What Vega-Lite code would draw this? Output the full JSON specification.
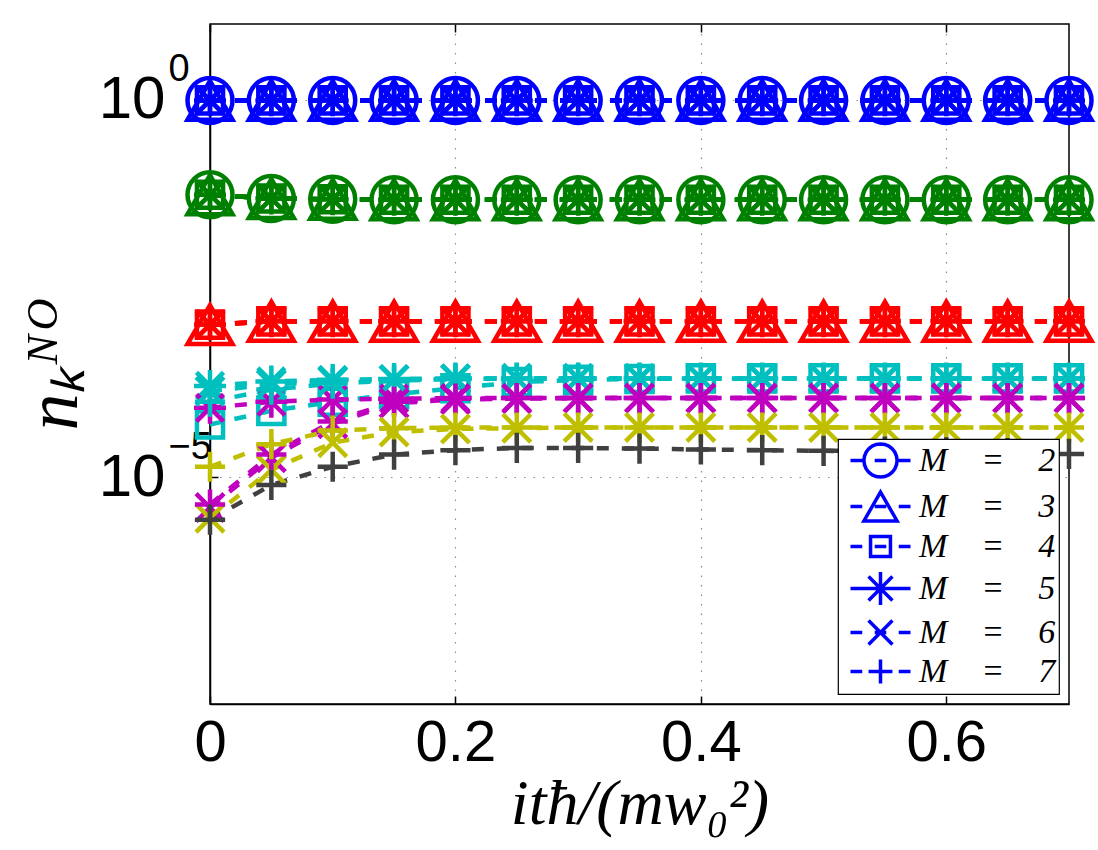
{
"$schema":"https://vega.github.io/schema/vega-lite/v6.json",
"width":859,"height":680,
"autosize":{"type":"none"},
"padding":{"left":210,"top":24,"right":29,"bottom":146},
"background":"white",
"config":{
 "view":{"stroke":"black","strokeWidth":1.5},
 "legend":{"strokeWidth":1.2},
 "axis":{"domainColor":"black","domainWidth":1.5,"tickColor":"black","tickWidth":1.5,"labelColor":"black","titleColor":"black"}
},
"data":{"values":[
{"t":0,"M":2,"k":1,"n":0.975},{"t":0.05,"M":2,"k":1,"n":0.975},{"t":0.1,"M":2,"k":1,"n":0.975},{"t":0.15,"M":2,"k":1,"n":0.975},{"t":0.2,"M":2,"k":1,"n":0.975},{"t":0.25,"M":2,"k":1,"n":0.975},{"t":0.3,"M":2,"k":1,"n":0.975},{"t":0.35,"M":2,"k":1,"n":0.975},{"t":0.4,"M":2,"k":1,"n":0.975},{"t":0.45,"M":2,"k":1,"n":0.975},{"t":0.5,"M":2,"k":1,"n":0.975},{"t":0.55,"M":2,"k":1,"n":0.975},{"t":0.6,"M":2,"k":1,"n":0.975},{"t":0.65,"M":2,"k":1,"n":0.975},{"t":0.7,"M":2,"k":1,"n":0.975},
{"t":0,"M":2,"k":2,"n":0.055},{"t":0.05,"M":2,"k":2,"n":0.049},{"t":0.1,"M":2,"k":2,"n":0.0479},{"t":0.15,"M":2,"k":2,"n":0.0473},{"t":0.2,"M":2,"k":2,"n":0.0473},{"t":0.25,"M":2,"k":2,"n":0.0473},{"t":0.3,"M":2,"k":2,"n":0.0473},{"t":0.35,"M":2,"k":2,"n":0.0473},{"t":0.4,"M":2,"k":2,"n":0.0473},{"t":0.45,"M":2,"k":2,"n":0.0473},{"t":0.5,"M":2,"k":2,"n":0.0473},{"t":0.55,"M":2,"k":2,"n":0.0473},{"t":0.6,"M":2,"k":2,"n":0.0473},{"t":0.65,"M":2,"k":2,"n":0.0473},{"t":0.7,"M":2,"k":2,"n":0.0473},
{"t":0,"M":3,"k":1,"n":0.975},{"t":0.05,"M":3,"k":1,"n":0.975},{"t":0.1,"M":3,"k":1,"n":0.975},{"t":0.15,"M":3,"k":1,"n":0.975},{"t":0.2,"M":3,"k":1,"n":0.975},{"t":0.25,"M":3,"k":1,"n":0.975},{"t":0.3,"M":3,"k":1,"n":0.975},{"t":0.35,"M":3,"k":1,"n":0.975},{"t":0.4,"M":3,"k":1,"n":0.975},{"t":0.45,"M":3,"k":1,"n":0.975},{"t":0.5,"M":3,"k":1,"n":0.975},{"t":0.55,"M":3,"k":1,"n":0.975},{"t":0.6,"M":3,"k":1,"n":0.975},{"t":0.65,"M":3,"k":1,"n":0.975},{"t":0.7,"M":3,"k":1,"n":0.975},
{"t":0,"M":3,"k":2,"n":0.055},{"t":0.05,"M":3,"k":2,"n":0.049},{"t":0.1,"M":3,"k":2,"n":0.0479},{"t":0.15,"M":3,"k":2,"n":0.0473},{"t":0.2,"M":3,"k":2,"n":0.0473},{"t":0.25,"M":3,"k":2,"n":0.0473},{"t":0.3,"M":3,"k":2,"n":0.0473},{"t":0.35,"M":3,"k":2,"n":0.0473},{"t":0.4,"M":3,"k":2,"n":0.0473},{"t":0.45,"M":3,"k":2,"n":0.0473},{"t":0.5,"M":3,"k":2,"n":0.0473},{"t":0.55,"M":3,"k":2,"n":0.0473},{"t":0.6,"M":3,"k":2,"n":0.0473},{"t":0.65,"M":3,"k":2,"n":0.0473},{"t":0.7,"M":3,"k":2,"n":0.0473},
{"t":0,"M":3,"k":3,"n":0.00105},{"t":0.05,"M":3,"k":3,"n":0.00116},{"t":0.1,"M":3,"k":3,"n":0.00116},{"t":0.15,"M":3,"k":3,"n":0.00116},{"t":0.2,"M":3,"k":3,"n":0.00116},{"t":0.25,"M":3,"k":3,"n":0.00116},{"t":0.3,"M":3,"k":3,"n":0.00116},{"t":0.35,"M":3,"k":3,"n":0.00116},{"t":0.4,"M":3,"k":3,"n":0.00116},{"t":0.45,"M":3,"k":3,"n":0.00116},{"t":0.5,"M":3,"k":3,"n":0.00116},{"t":0.55,"M":3,"k":3,"n":0.00116},{"t":0.6,"M":3,"k":3,"n":0.00116},{"t":0.65,"M":3,"k":3,"n":0.00116},{"t":0.7,"M":3,"k":3,"n":0.00116},
{"t":0,"M":4,"k":1,"n":0.975},{"t":0.05,"M":4,"k":1,"n":0.975},{"t":0.1,"M":4,"k":1,"n":0.975},{"t":0.15,"M":4,"k":1,"n":0.975},{"t":0.2,"M":4,"k":1,"n":0.975},{"t":0.25,"M":4,"k":1,"n":0.975},{"t":0.3,"M":4,"k":1,"n":0.975},{"t":0.35,"M":4,"k":1,"n":0.975},{"t":0.4,"M":4,"k":1,"n":0.975},{"t":0.45,"M":4,"k":1,"n":0.975},{"t":0.5,"M":4,"k":1,"n":0.975},{"t":0.55,"M":4,"k":1,"n":0.975},{"t":0.6,"M":4,"k":1,"n":0.975},{"t":0.65,"M":4,"k":1,"n":0.975},{"t":0.7,"M":4,"k":1,"n":0.975},
{"t":0,"M":4,"k":2,"n":0.055},{"t":0.05,"M":4,"k":2,"n":0.049},{"t":0.1,"M":4,"k":2,"n":0.0479},{"t":0.15,"M":4,"k":2,"n":0.0473},{"t":0.2,"M":4,"k":2,"n":0.0473},{"t":0.25,"M":4,"k":2,"n":0.0473},{"t":0.3,"M":4,"k":2,"n":0.0473},{"t":0.35,"M":4,"k":2,"n":0.0473},{"t":0.4,"M":4,"k":2,"n":0.0473},{"t":0.45,"M":4,"k":2,"n":0.0473},{"t":0.5,"M":4,"k":2,"n":0.0473},{"t":0.55,"M":4,"k":2,"n":0.0473},{"t":0.6,"M":4,"k":2,"n":0.0473},{"t":0.65,"M":4,"k":2,"n":0.0473},{"t":0.7,"M":4,"k":2,"n":0.0473},
{"t":0,"M":4,"k":3,"n":0.00105},{"t":0.05,"M":4,"k":3,"n":0.00116},{"t":0.1,"M":4,"k":3,"n":0.00116},{"t":0.15,"M":4,"k":3,"n":0.00116},{"t":0.2,"M":4,"k":3,"n":0.00116},{"t":0.25,"M":4,"k":3,"n":0.00116},{"t":0.3,"M":4,"k":3,"n":0.00116},{"t":0.35,"M":4,"k":3,"n":0.00116},{"t":0.4,"M":4,"k":3,"n":0.00116},{"t":0.45,"M":4,"k":3,"n":0.00116},{"t":0.5,"M":4,"k":3,"n":0.00116},{"t":0.55,"M":4,"k":3,"n":0.00116},{"t":0.6,"M":4,"k":3,"n":0.00116},{"t":0.65,"M":4,"k":3,"n":0.00116},{"t":0.7,"M":4,"k":3,"n":0.00116},
{"t":0,"M":4,"k":4,"n":5.01e-5},{"t":0.05,"M":4,"k":4,"n":7.59e-5},{"t":0.1,"M":4,"k":4,"n":1e-4},{"t":0.15,"M":4,"k":4,"n":1.26e-4},{"t":0.2,"M":4,"k":4,"n":1.51e-4},{"t":0.25,"M":4,"k":4,"n":1.82e-4},{"t":0.3,"M":4,"k":4,"n":1.95e-4},{"t":0.35,"M":4,"k":4,"n":2e-4},{"t":0.4,"M":4,"k":4,"n":2.04e-4},{"t":0.45,"M":4,"k":4,"n":2.04e-4},{"t":0.5,"M":4,"k":4,"n":2.04e-4},{"t":0.55,"M":4,"k":4,"n":2.04e-4},{"t":0.6,"M":4,"k":4,"n":2.04e-4},{"t":0.65,"M":4,"k":4,"n":2.04e-4},{"t":0.7,"M":4,"k":4,"n":2.04e-4},
{"t":0,"M":5,"k":1,"n":0.975},{"t":0.05,"M":5,"k":1,"n":0.975},{"t":0.1,"M":5,"k":1,"n":0.975},{"t":0.15,"M":5,"k":1,"n":0.975},{"t":0.2,"M":5,"k":1,"n":0.975},{"t":0.25,"M":5,"k":1,"n":0.975},{"t":0.3,"M":5,"k":1,"n":0.975},{"t":0.35,"M":5,"k":1,"n":0.975},{"t":0.4,"M":5,"k":1,"n":0.975},{"t":0.45,"M":5,"k":1,"n":0.975},{"t":0.5,"M":5,"k":1,"n":0.975},{"t":0.55,"M":5,"k":1,"n":0.975},{"t":0.6,"M":5,"k":1,"n":0.975},{"t":0.65,"M":5,"k":1,"n":0.975},{"t":0.7,"M":5,"k":1,"n":0.975},
{"t":0,"M":5,"k":2,"n":0.055},{"t":0.05,"M":5,"k":2,"n":0.049},{"t":0.1,"M":5,"k":2,"n":0.0479},{"t":0.15,"M":5,"k":2,"n":0.0473},{"t":0.2,"M":5,"k":2,"n":0.0473},{"t":0.25,"M":5,"k":2,"n":0.0473},{"t":0.3,"M":5,"k":2,"n":0.0473},{"t":0.35,"M":5,"k":2,"n":0.0473},{"t":0.4,"M":5,"k":2,"n":0.0473},{"t":0.45,"M":5,"k":2,"n":0.0473},{"t":0.5,"M":5,"k":2,"n":0.0473},{"t":0.55,"M":5,"k":2,"n":0.0473},{"t":0.6,"M":5,"k":2,"n":0.0473},{"t":0.65,"M":5,"k":2,"n":0.0473},{"t":0.7,"M":5,"k":2,"n":0.0473},
{"t":0,"M":5,"k":3,"n":0.00105},{"t":0.05,"M":5,"k":3,"n":0.00116},{"t":0.1,"M":5,"k":3,"n":0.00116},{"t":0.15,"M":5,"k":3,"n":0.00116},{"t":0.2,"M":5,"k":3,"n":0.00116},{"t":0.25,"M":5,"k":3,"n":0.00116},{"t":0.3,"M":5,"k":3,"n":0.00116},{"t":0.35,"M":5,"k":3,"n":0.00116},{"t":0.4,"M":5,"k":3,"n":0.00116},{"t":0.45,"M":5,"k":3,"n":0.00116},{"t":0.5,"M":5,"k":3,"n":0.00116},{"t":0.55,"M":5,"k":3,"n":0.00116},{"t":0.6,"M":5,"k":3,"n":0.00116},{"t":0.65,"M":5,"k":3,"n":0.00116},{"t":0.7,"M":5,"k":3,"n":0.00116},
{"t":0,"M":5,"k":4,"n":1.62e-4},{"t":0.05,"M":5,"k":4,"n":1.86e-4},{"t":0.1,"M":5,"k":4,"n":1.95e-4},{"t":0.15,"M":5,"k":4,"n":2e-4},{"t":0.2,"M":5,"k":4,"n":2.04e-4},{"t":0.25,"M":5,"k":4,"n":2.04e-4},{"t":0.3,"M":5,"k":4,"n":2.04e-4},{"t":0.35,"M":5,"k":4,"n":2.04e-4},{"t":0.4,"M":5,"k":4,"n":2.04e-4},{"t":0.45,"M":5,"k":4,"n":2.04e-4},{"t":0.5,"M":5,"k":4,"n":2.04e-4},{"t":0.55,"M":5,"k":4,"n":2.04e-4},{"t":0.6,"M":5,"k":4,"n":2.04e-4},{"t":0.65,"M":5,"k":4,"n":2.04e-4},{"t":0.7,"M":5,"k":4,"n":2.04e-4},
{"t":0,"M":5,"k":5,"n":8.32e-5},{"t":0.05,"M":5,"k":5,"n":1e-4},{"t":0.1,"M":5,"k":5,"n":1.07e-4},{"t":0.15,"M":5,"k":5,"n":1.1e-4},{"t":0.2,"M":5,"k":5,"n":1.12e-4},{"t":0.25,"M":5,"k":5,"n":1.12e-4},{"t":0.3,"M":5,"k":5,"n":1.12e-4},{"t":0.35,"M":5,"k":5,"n":1.12e-4},{"t":0.4,"M":5,"k":5,"n":1.12e-4},{"t":0.45,"M":5,"k":5,"n":1.12e-4},{"t":0.5,"M":5,"k":5,"n":1.12e-4},{"t":0.55,"M":5,"k":5,"n":1.12e-4},{"t":0.6,"M":5,"k":5,"n":1.12e-4},{"t":0.65,"M":5,"k":5,"n":1.12e-4},{"t":0.7,"M":5,"k":5,"n":1.12e-4},
{"t":0,"M":6,"k":1,"n":0.975},{"t":0.05,"M":6,"k":1,"n":0.975},{"t":0.1,"M":6,"k":1,"n":0.975},{"t":0.15,"M":6,"k":1,"n":0.975},{"t":0.2,"M":6,"k":1,"n":0.975},{"t":0.25,"M":6,"k":1,"n":0.975},{"t":0.3,"M":6,"k":1,"n":0.975},{"t":0.35,"M":6,"k":1,"n":0.975},{"t":0.4,"M":6,"k":1,"n":0.975},{"t":0.45,"M":6,"k":1,"n":0.975},{"t":0.5,"M":6,"k":1,"n":0.975},{"t":0.55,"M":6,"k":1,"n":0.975},{"t":0.6,"M":6,"k":1,"n":0.975},{"t":0.65,"M":6,"k":1,"n":0.975},{"t":0.7,"M":6,"k":1,"n":0.975},
{"t":0,"M":6,"k":2,"n":0.055},{"t":0.05,"M":6,"k":2,"n":0.049},{"t":0.1,"M":6,"k":2,"n":0.0479},{"t":0.15,"M":6,"k":2,"n":0.0473},{"t":0.2,"M":6,"k":2,"n":0.0473},{"t":0.25,"M":6,"k":2,"n":0.0473},{"t":0.3,"M":6,"k":2,"n":0.0473},{"t":0.35,"M":6,"k":2,"n":0.0473},{"t":0.4,"M":6,"k":2,"n":0.0473},{"t":0.45,"M":6,"k":2,"n":0.0473},{"t":0.5,"M":6,"k":2,"n":0.0473},{"t":0.55,"M":6,"k":2,"n":0.0473},{"t":0.6,"M":6,"k":2,"n":0.0473},{"t":0.65,"M":6,"k":2,"n":0.0473},{"t":0.7,"M":6,"k":2,"n":0.0473},
{"t":0,"M":6,"k":3,"n":0.00105},{"t":0.05,"M":6,"k":3,"n":0.00116},{"t":0.1,"M":6,"k":3,"n":0.00116},{"t":0.15,"M":6,"k":3,"n":0.00116},{"t":0.2,"M":6,"k":3,"n":0.00116},{"t":0.25,"M":6,"k":3,"n":0.00116},{"t":0.3,"M":6,"k":3,"n":0.00116},{"t":0.35,"M":6,"k":3,"n":0.00116},{"t":0.4,"M":6,"k":3,"n":0.00116},{"t":0.45,"M":6,"k":3,"n":0.00116},{"t":0.5,"M":6,"k":3,"n":0.00116},{"t":0.55,"M":6,"k":3,"n":0.00116},{"t":0.6,"M":6,"k":3,"n":0.00116},{"t":0.65,"M":6,"k":3,"n":0.00116},{"t":0.7,"M":6,"k":3,"n":0.00116},
{"t":0,"M":6,"k":4,"n":1.38e-4},{"t":0.05,"M":6,"k":4,"n":1.7e-4},{"t":0.1,"M":6,"k":4,"n":1.86e-4},{"t":0.15,"M":6,"k":4,"n":1.95e-4},{"t":0.2,"M":6,"k":4,"n":2e-4},{"t":0.25,"M":6,"k":4,"n":2.04e-4},{"t":0.3,"M":6,"k":4,"n":2.04e-4},{"t":0.35,"M":6,"k":4,"n":2.04e-4},{"t":0.4,"M":6,"k":4,"n":2.04e-4},{"t":0.45,"M":6,"k":4,"n":2.04e-4},{"t":0.5,"M":6,"k":4,"n":2.04e-4},{"t":0.55,"M":6,"k":4,"n":2.04e-4},{"t":0.6,"M":6,"k":4,"n":2.04e-4},{"t":0.65,"M":6,"k":4,"n":2.04e-4},{"t":0.7,"M":6,"k":4,"n":2.04e-4},
{"t":0,"M":6,"k":5,"n":3.98e-6},{"t":0.05,"M":6,"k":5,"n":1.82e-5},{"t":0.1,"M":6,"k":5,"n":5.13e-5},{"t":0.15,"M":6,"k":5,"n":9.55e-5},{"t":0.2,"M":6,"k":5,"n":1.07e-4},{"t":0.25,"M":6,"k":5,"n":1.1e-4},{"t":0.3,"M":6,"k":5,"n":1.12e-4},{"t":0.35,"M":6,"k":5,"n":1.12e-4},{"t":0.4,"M":6,"k":5,"n":1.12e-4},{"t":0.45,"M":6,"k":5,"n":1.12e-4},{"t":0.5,"M":6,"k":5,"n":1.12e-4},{"t":0.55,"M":6,"k":5,"n":1.12e-4},{"t":0.6,"M":6,"k":5,"n":1.12e-4},{"t":0.65,"M":6,"k":5,"n":1.12e-4},{"t":0.7,"M":6,"k":5,"n":1.12e-4},
{"t":0,"M":6,"k":6,"n":2.88e-6},{"t":0.05,"M":6,"k":6,"n":1.26e-5},{"t":0.1,"M":6,"k":6,"n":2.88e-5},{"t":0.15,"M":6,"k":6,"n":3.98e-5},{"t":0.2,"M":6,"k":6,"n":4.37e-5},{"t":0.25,"M":6,"k":6,"n":4.47e-5},{"t":0.3,"M":6,"k":6,"n":4.57e-5},{"t":0.35,"M":6,"k":6,"n":4.57e-5},{"t":0.4,"M":6,"k":6,"n":4.57e-5},{"t":0.45,"M":6,"k":6,"n":4.57e-5},{"t":0.5,"M":6,"k":6,"n":4.57e-5},{"t":0.55,"M":6,"k":6,"n":4.57e-5},{"t":0.6,"M":6,"k":6,"n":4.57e-5},{"t":0.65,"M":6,"k":6,"n":4.57e-5},{"t":0.7,"M":6,"k":6,"n":4.57e-5},
{"t":0,"M":7,"k":1,"n":0.975},{"t":0.05,"M":7,"k":1,"n":0.975},{"t":0.1,"M":7,"k":1,"n":0.975},{"t":0.15,"M":7,"k":1,"n":0.975},{"t":0.2,"M":7,"k":1,"n":0.975},{"t":0.25,"M":7,"k":1,"n":0.975},{"t":0.3,"M":7,"k":1,"n":0.975},{"t":0.35,"M":7,"k":1,"n":0.975},{"t":0.4,"M":7,"k":1,"n":0.975},{"t":0.45,"M":7,"k":1,"n":0.975},{"t":0.5,"M":7,"k":1,"n":0.975},{"t":0.55,"M":7,"k":1,"n":0.975},{"t":0.6,"M":7,"k":1,"n":0.975},{"t":0.65,"M":7,"k":1,"n":0.975},{"t":0.7,"M":7,"k":1,"n":0.975},
{"t":0,"M":7,"k":2,"n":0.055},{"t":0.05,"M":7,"k":2,"n":0.049},{"t":0.1,"M":7,"k":2,"n":0.0479},{"t":0.15,"M":7,"k":2,"n":0.0473},{"t":0.2,"M":7,"k":2,"n":0.0473},{"t":0.25,"M":7,"k":2,"n":0.0473},{"t":0.3,"M":7,"k":2,"n":0.0473},{"t":0.35,"M":7,"k":2,"n":0.0473},{"t":0.4,"M":7,"k":2,"n":0.0473},{"t":0.45,"M":7,"k":2,"n":0.0473},{"t":0.5,"M":7,"k":2,"n":0.0473},{"t":0.55,"M":7,"k":2,"n":0.0473},{"t":0.6,"M":7,"k":2,"n":0.0473},{"t":0.65,"M":7,"k":2,"n":0.0473},{"t":0.7,"M":7,"k":2,"n":0.0473},
{"t":0,"M":7,"k":3,"n":0.00105},{"t":0.05,"M":7,"k":3,"n":0.00116},{"t":0.1,"M":7,"k":3,"n":0.00116},{"t":0.15,"M":7,"k":3,"n":0.00116},{"t":0.2,"M":7,"k":3,"n":0.00116},{"t":0.25,"M":7,"k":3,"n":0.00116},{"t":0.3,"M":7,"k":3,"n":0.00116},{"t":0.35,"M":7,"k":3,"n":0.00116},{"t":0.4,"M":7,"k":3,"n":0.00116},{"t":0.45,"M":7,"k":3,"n":0.00116},{"t":0.5,"M":7,"k":3,"n":0.00116},{"t":0.55,"M":7,"k":3,"n":0.00116},{"t":0.6,"M":7,"k":3,"n":0.00116},{"t":0.65,"M":7,"k":3,"n":0.00116},{"t":0.7,"M":7,"k":3,"n":0.00116},
{"t":0,"M":7,"k":4,"n":1e-4},{"t":0.05,"M":7,"k":4,"n":1.45e-4},{"t":0.1,"M":7,"k":4,"n":1.74e-4},{"t":0.15,"M":7,"k":4,"n":1.91e-4},{"t":0.2,"M":7,"k":4,"n":2e-4},{"t":0.25,"M":7,"k":4,"n":2.04e-4},{"t":0.3,"M":7,"k":4,"n":2.04e-4},{"t":0.35,"M":7,"k":4,"n":2.04e-4},{"t":0.4,"M":7,"k":4,"n":2.04e-4},{"t":0.45,"M":7,"k":4,"n":2.04e-4},{"t":0.5,"M":7,"k":4,"n":2.04e-4},{"t":0.55,"M":7,"k":4,"n":2.04e-4},{"t":0.6,"M":7,"k":4,"n":2.04e-4},{"t":0.65,"M":7,"k":4,"n":2.04e-4},{"t":0.7,"M":7,"k":4,"n":2.04e-4},
{"t":0,"M":7,"k":5,"n":4.37e-6},{"t":0.05,"M":7,"k":5,"n":2e-5},{"t":0.1,"M":7,"k":5,"n":5.5e-5},{"t":0.15,"M":7,"k":5,"n":1e-4},{"t":0.2,"M":7,"k":5,"n":1.1e-4},{"t":0.25,"M":7,"k":5,"n":1.12e-4},{"t":0.3,"M":7,"k":5,"n":1.12e-4},{"t":0.35,"M":7,"k":5,"n":1.12e-4},{"t":0.4,"M":7,"k":5,"n":1.12e-4},{"t":0.45,"M":7,"k":5,"n":1.12e-4},{"t":0.5,"M":7,"k":5,"n":1.12e-4},{"t":0.55,"M":7,"k":5,"n":1.12e-4},{"t":0.6,"M":7,"k":5,"n":1.12e-4},{"t":0.65,"M":7,"k":5,"n":1.12e-4},{"t":0.7,"M":7,"k":5,"n":1.12e-4},
{"t":0,"M":7,"k":6,"n":1.38e-5},{"t":0.05,"M":7,"k":6,"n":2.75e-5},{"t":0.1,"M":7,"k":6,"n":4.17e-5},{"t":0.15,"M":7,"k":6,"n":4.47e-5},{"t":0.2,"M":7,"k":6,"n":4.57e-5},{"t":0.25,"M":7,"k":6,"n":4.57e-5},{"t":0.3,"M":7,"k":6,"n":4.57e-5},{"t":0.35,"M":7,"k":6,"n":4.57e-5},{"t":0.4,"M":7,"k":6,"n":4.57e-5},{"t":0.45,"M":7,"k":6,"n":4.57e-5},{"t":0.5,"M":7,"k":6,"n":4.57e-5},{"t":0.55,"M":7,"k":6,"n":4.57e-5},{"t":0.6,"M":7,"k":6,"n":4.57e-5},{"t":0.65,"M":7,"k":6,"n":4.57e-5},{"t":0.7,"M":7,"k":6,"n":4.57e-5},
{"t":0,"M":7,"k":7,"n":2.75e-6},{"t":0.05,"M":7,"k":7,"n":7.94e-6},{"t":0.1,"M":7,"k":7,"n":1.38e-5},{"t":0.15,"M":7,"k":7,"n":2e-5},{"t":0.2,"M":7,"k":7,"n":2.29e-5},{"t":0.25,"M":7,"k":7,"n":2.45e-5},{"t":0.3,"M":7,"k":7,"n":2.45e-5},{"t":0.35,"M":7,"k":7,"n":2.4e-5},{"t":0.4,"M":7,"k":7,"n":2.34e-5},{"t":0.45,"M":7,"k":7,"n":2.29e-5},{"t":0.5,"M":7,"k":7,"n":2.24e-5},{"t":0.55,"M":7,"k":7,"n":2.19e-5},{"t":0.6,"M":7,"k":7,"n":2.14e-5},{"t":0.65,"M":7,"k":7,"n":2.09e-5},{"t":0.7,"M":7,"k":7,"n":2.04e-5}
]},
"resolve":{"axis":{"x":"independent","y":"independent"},"scale":{"shape":"independent"},"legend":{"shape":"independent"}},
"layer":[
{"mark":{"type":"line","strokeDash":[12,13],"strokeWidth":4.5},
 "encoding":{
  "x":{"field":"t","type":"quantitative","scale":{"domain":[0,0.7],"nice":false,"zero":false},
       "axis":{"orient":"top","values":[0,0.2,0.4,0.6],"labels":false,"title":null,"grid":false,"domain":false,"tickSize":-8}},
  "y":{"field":"n","type":"quantitative","scale":{"type":"log","domain":[1e-8,10],"nice":false},
       "axis":{"orient":"left","values":[1e-5,1],"labelExpr":"datum.value >= 0.5 ? '0' : '−5'","labelFont":"Liberation Sans","labelFontSize":38,"labelAlign":"left","labelPadding":42,"labelOffset":-30,"ticks":false,"title":null,"grid":false,"domain":false}},
  "color":{"field":"k","type":"nominal","scale":{"domain":[1,2,3,4,5,6,7],"range":["#0000ff","#008000","#ff0000","#00bfbf","#bf00bf","#bfbf00","#404040"]},"legend":null},
  "detail":{"field":"M","type":"nominal"}
 }},
{"mark":{"type":"point","filled":false,"strokeWidth":4.5,"size":2025,"opacity":1},
 "encoding":{
  "x":{"field":"t","type":"quantitative",
       "axis":{"orient":"bottom","values":[0,0.2,0.4,0.6],"format":"~g","labelFlush":false,"labelFont":"Liberation Sans","labelFontSize":58,"labelPadding":18,"tickSize":-8,
               "grid":true,"gridDash":[1.5,8],"gridColor":"#8c8c8c","gridWidth":1.2,
               "title":"itħ/(mw₀²)","titleFont":"Liberation Serif","titleFontStyle":"italic","titleFontWeight":"normal","titleFontSize":64,"titlePadding":0}},
  "y":{"field":"n","type":"quantitative",
       "axis":{"orient":"left","values":[1e-5,1],"labelExpr":"'10'","labelFont":"Liberation Sans","labelFontSize":60,"labelPadding":53,"tickSize":-8,
               "grid":true,"gridDash":[1.5,8],"gridColor":"#8c8c8c","gridWidth":1.2,
               "title":"nₖᴺᴼ","titleFont":"Liberation Serif","titleFontStyle":"italic","titleFontWeight":"normal","titleFontSize":74,"titlePadding":6}},
  "color":{"field":"k","type":"nominal","legend":null},
  "shape":{"field":"M","type":"nominal",
    "scale":{"domain":[2,3,4,5,6,7],"range":["circle","triangle-up","M-0.58,-0.58L0.58,-0.58L0.58,0.58L-0.58,0.58Z","M-0.71,0L0.71,0M0,-0.71L0,0.71M-0.6,-0.6L0.6,0.6M-0.6,0.6L0.6,-0.6","M-0.62,-0.62L0.62,0.62M-0.62,0.62L0.62,-0.62","M-0.67,0L0.67,0M0,-0.67L0,0.67"]},
    "legend":null}
 }},
{"mark":{"type":"point","filled":false,"color":"#0000ff","strokeWidth":3.5,"opacity":0},
 "encoding":{
  "x":{"field":"t","type":"quantitative","axis":null},
  "y":{"field":"n","type":"quantitative","axis":null},
  "shape":{"field":"M","type":"nominal",
    "scale":{"domain":[2,3,4,5,6,7],"range":[
      "M1,0L0.966,0.259L0.866,0.5L0.707,0.707L0.5,0.866L0.259,0.966L0,1L-0.259,0.966L-0.5,0.866L-0.707,0.707L-0.866,0.5L-0.966,0.259L-1,0L-0.966,-0.259L-0.866,-0.5L-0.707,-0.707L-0.5,-0.866L-0.259,-0.966L0,-1L0.259,-0.966L0.5,-0.866L0.707,-0.707L0.866,-0.5L0.966,-0.259ZM-1.81,0L-1,0M-0.35,0L0.35,0M1,0L1.81,0",
      "M0,-0.87L1,0.87L-1,0.87ZM-1.81,0L-1.1,0M-0.35,0L0.35,0M1.1,0L1.81,0",
      "M-0.6,-0.6L0.6,-0.6L0.6,0.6L-0.6,0.6ZM-1.81,0L-1.1,0M-0.35,0L0.35,0M1.1,0L1.81,0",
      "M0,-1L0,1M-0.72,-0.72L0.72,0.72M-0.72,0.72L0.72,-0.72M-1.81,0L1.81,0",
      "M-0.72,-0.72L0.72,0.72M-0.72,0.72L0.72,-0.72M-1.81,0L-1.1,0M-0.35,0L0.35,0M1.1,0L1.81,0",
      "M-0.72,0L0.72,0M0,-0.72L0,0.72M-1.81,0L-1.1,0M1.1,0L1.81,0"]},
    "legend":{"orient":"bottom-right","offset":10,"title":null,"strokeColor":"black","fillColor":"white","padding":3,
      "labelFont":"Liberation Serif","labelFontSize":34,"labelFontStyle":"italic","labelColor":"black",
      "labelExpr":"'M\u00a0\u00a0\u00a0\u00a0=\u00a0\u00a0\u00a0\u00a0' + datum.label",
      "symbolSize":1100,"symbolStrokeWidth":3.5,"symbolStrokeColor":"#0000ff","symbolFillColor":"transparent","symbolOpacity":1,
      "symbolOffset":21,"labelOffset":20,"rowPadding":0}}
 }}
]
}
